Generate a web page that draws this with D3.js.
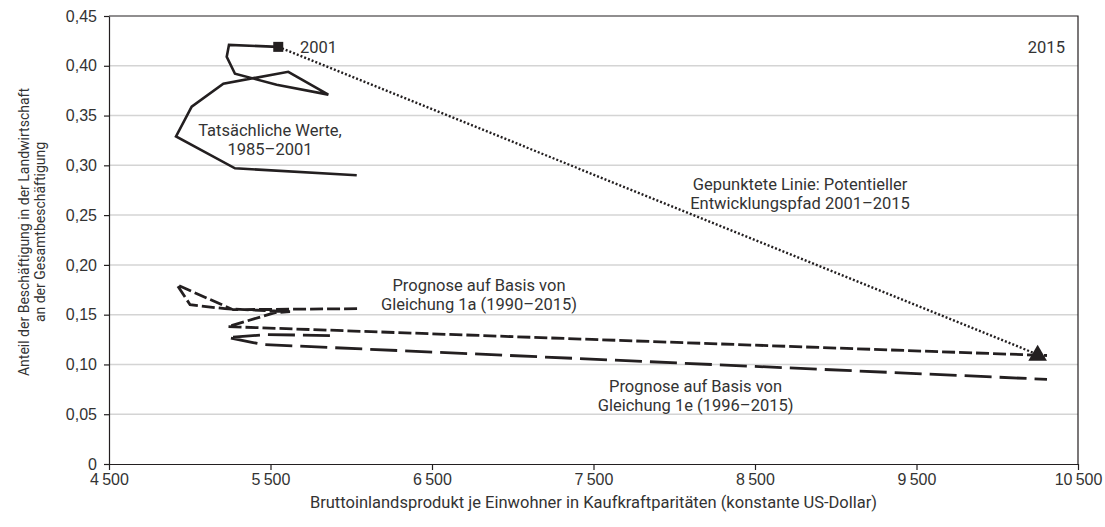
<!DOCTYPE html>
<html>
<head>
<meta charset="utf-8">
<script src="https://cdn.jsdelivr.net/npm/d3@7"></script>
<style>
  body { margin: 0; background: #fff; }
  svg { font-family: Roboto, "Noto Sans", sans-serif; }
  .axis text { font-size: 16px; fill: #333; }
  .axis path, .axis line { stroke: #231f20; stroke-width: 1.2; }
  .label { font-size: 16.5px; fill: #333; }
</style>
</head>
<body>
<div id="chart"></div>
<script>
// ticks
const xTicks = [4500, 5500, 6500, 7500, 8500, 9500, 10500];
const yTicks = [0, 0.05, 0.10, 0.15, 0.20, 0.25, 0.30, 0.35, 0.40, 0.45];

// tatsächliche Werte 1985-2001 (BIP je Einwohner, Anteil Landwirtschaft)
const actualGdp   = [6034, 5280, 4915, 5012, 5208, 5610, 5858, 5538, 5280, 5229, 5243, 5548];
const actualShare = [0.290, 0.297, 0.329, 0.359, 0.382, 0.394, 0.371, 0.381, 0.392, 0.409, 0.421, 0.419];

// Prognose Gleichung 1a (1990-2015)
const prog1aGdp   = [6036, 5268, 4921, 5002, 5218, 5621, 5528, 5237, 10308];
const prog1aShare = [0.156, 0.155, 0.180, 0.160, 0.156, 0.153, 0.152, 0.138, 0.109];

// Prognose Gleichung 1e (1996-2015)
const prog1eGdp   = [5868, 5478, 5237, 5392, 5454, 10308];
const prog1eShare = [0.129, 0.130, 0.127, 0.122, 0.120, 0.085];

// potentieller Entwicklungspfad 2001-2015
const pathGdp   = [5548, 10250];
const pathShare = [0.419, 0.110];

const width = 1105, height = 527;
const margin = {top: 16, right: 27, bottom: 63, left: 109};

const svg = d3.select("#chart").append("svg")
  .attr("width", width)
  .attr("height", height);

const x = d3.scaleLinear()
  .domain([4500, 10500])
  .range([margin.left, width - margin.right]);

const y = d3.scaleLinear()
  .domain([0, 0.45])
  .range([height - margin.bottom, margin.top]);

const loc = d3.formatLocale({decimal: ",", thousands: "\u2009", grouping: [3], currency: ["", ""]});
const fx = loc.format(",d");
const fy = loc.format(".2f");

// grid
svg.append("g")
  .selectAll("line")
  .data(yTicks.filter(d => d > 0 && d < 0.45))
  .enter().append("line")
  .attr("x1", x(4500))
  .attr("x2", x(10500))
  .attr("y1", d => y(d))
  .attr("y2", d => y(d))
  .style("stroke", "#d4d4d4")
  .style("stroke-width", 1.5);

// frame top + right
svg.append("path")
  .attr("d", "M" + x(4500) + "," + y(0.45) + "H" + x(10500) + "V" + y(0))
  .style("fill", "none")
  .style("stroke", "#231f20")
  .style("stroke-width", 1.2);

svg.append("g")
  .attr("class", "x axis")
  .attr("transform", "translate(0," + y(0) + ")")
  .call(d3.axisBottom(x).tickValues(xTicks).tickFormat(fx).tickSize(6).tickSizeOuter(0))
  .selectAll(".tick text")
  .attr("y", 10);

svg.append("g")
  .attr("class", "y axis")
  .attr("transform", "translate(" + x(4500) + ",0)")
  .call(d3.axisLeft(y).tickValues(yTicks).tickFormat(d => d === 0 ? "0" : fy(d)).tickSize(5).tickSizeOuter(0))
  .selectAll(".tick text")
  .attr("x", -12);

const line = d3.line().x(d => x(d[0])).y(d => y(d[1]));
const zip = (a, b) => a.map((d, i) => [d, b[i]]);

svg.append("path")
  .datum(zip(actualGdp, actualShare))
  .attr("d", line)
  .style("fill", "none")
  .style("stroke", "#231f20")
  .style("stroke-width", 2.6)
  .style("stroke-linejoin", "miter");

svg.append("path")
  .datum(zip(prog1aGdp, prog1aShare))
  .attr("d", line)
  .style("fill", "none")
  .style("stroke", "#231f20")
  .style("stroke-width", 2.8)
  .style("stroke-dasharray", "13,4");

svg.append("path")
  .datum(zip(prog1eGdp, prog1eShare))
  .attr("d", line)
  .style("fill", "none")
  .style("stroke", "#231f20")
  .style("stroke-width", 2.8)
  .style("stroke-dasharray", "27,8");

svg.append("path")
  .datum(zip(pathGdp, pathShare))
  .attr("d", line)
  .style("fill", "none")
  .style("stroke", "#231f20")
  .style("stroke-width", 2.4)
  .style("stroke-dasharray", "2,2");

// markers
svg.append("rect")
  .attr("x", x(pathGdp[0]) - 5)
  .attr("y", y(pathShare[0]) - 5)
  .attr("width", 10)
  .attr("height", 10)
  .style("fill", "#231f20");

svg.append("path")
  .attr("d", d3.symbol().type(d3.symbolTriangle).size(150))
  .attr("transform", "translate(" + x(pathGdp[1]) + "," + (y(pathShare[1]) + 1) + ")")
  .style("fill", "#231f20");

// labels
const labels = [
  {t: ["2001"], gx: 5683, gy: 0.4128, anchor: "start"},
  {t: ["2015"], gx: 10419, gy: 0.4128, anchor: "end"},
  {t: ["Tatsächliche Werte,", "1985–2001"], gx: 5497, gy: 0.3294, anchor: "middle"},
  {t: ["Gepunktete Linie: Potentieller", "Entwicklungspfad 2001–2015"], gx: 8779, gy: 0.2752, anchor: "middle"},
  {t: ["Prognose auf Basis von", "Gleichung 1a (1990–2015)"], gx: 6791, gy: 0.1738, anchor: "middle"},
  {t: ["Prognose auf Basis von", "Gleichung 1e (1996–2015)"], gx: 8132, gy: 0.0723, anchor: "middle"}
];

labels.forEach(l => {
  const tx = svg.append("text")
    .attr("class", "label")
    .attr("text-anchor", l.anchor)
    .attr("x", x(l.gx))
    .attr("y", y(l.gy));
  l.t.forEach((s, i) => {
    tx.append("tspan")
      .attr("x", x(l.gx))
      .attr("dy", i === 0 ? 0 : 19)
      .text(s);
  });
});

svg.append("text")
  .attr("class", "label")
  .attr("text-anchor", "middle")
  .attr("x", (x(4500) + x(10500)) / 2)
  .attr("y", 508)
  .style("font-size", "16.5px")
  .text("Bruttoinlandsprodukt je Einwohner in Kaufkraftparitäten (konstante US-Dollar)");

const yt = svg.append("text")
  .attr("class", "label")
  .attr("text-anchor", "middle")
  .attr("transform", "translate(29,232) rotate(-90)")
  .style("font-size", "14px");
yt.append("tspan").attr("x", 0).attr("dy", 0).text("Anteil der Beschäftigung in der Landwirtschaft");
yt.append("tspan").attr("x", 0).attr("dy", 16).text("an der Gesamtbeschäftigung");
</script>
</body>
</html>
